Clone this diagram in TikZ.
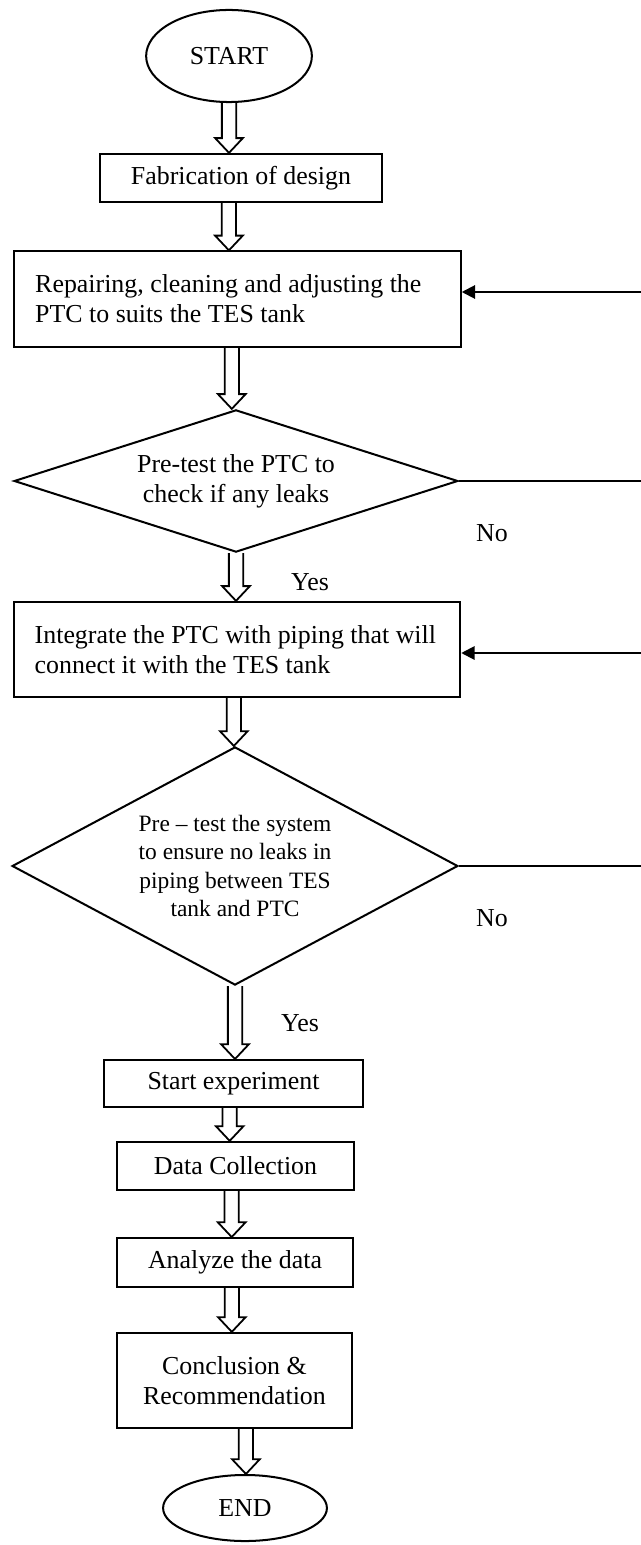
\documentclass[tikz,border=0pt]{standalone}
\usepackage{fontspec}
\setmainfont{Liberation Serif}
\usetikzlibrary{shapes.geometric,arrows.meta,calc}
\newcommand{\px}{0.01574cm}
% hollow block arrow from the bottom of #2 down to the top of #3
\newcommand{\fatarrow}[3][0pt]{%
  \draw[fat] let \p1=([xshift=#1]#2.south), \p2=([xshift=#1]#2.south |- #3.north) in
    (\x1-3.2pt,\y1) -- (\x1-3.2pt,\y2+6.6pt) -- (\x1-6.2pt,\y2+6.6pt) -- (\x2,\y2)
    -- (\x1+6.2pt,\y2+6.6pt) -- (\x1+3.2pt,\y2+6.6pt) -- (\x1+3.2pt,\y1);}
\begin{document}
\begin{tikzpicture}[x=\px,y=-\px,line width=0.9pt]
\tikzset{every node/.style={font=\fontsize{11.6}{13.5}\selectfont},
         oval/.style={draw,ellipse,inner sep=0pt},
         box/.style={draw,rectangle,inner sep=0pt,align=center},
         wide/.style={draw,rectangle,inner xsep=9.4pt,inner ysep=0pt,text width=6.37cm,
                      align=flush left,minimum height=1.5cm},
         test/.style={draw,diamond,inner sep=0pt,align=center},
         fat/.style={line width=0.8pt,line join=miter},
         back/.style={-{Triangle[length=6pt,width=6pt]}}}
%\tikzset{every node/.style={font=\small}}
\useasboundingbox (0,0) rectangle (641,1545);
\node[oval,minimum width=2.61cm,minimum height=1.45cm] (start) at (229,56) {START};
\node[box,minimum width=4.44cm,minimum height=0.76cm] (fab) at (241,178) {Fabrication of design};
\node[wide] (repair) at (237.5,299)
    {Repairing, cleaning and adjusting the\\PTC to suits the TES tank\\[6pt]};
\node[test,shape aspect=3.1,minimum width=6.99cm,minimum height=2.24cm] (check1) at (236,481)
    {Pre-test the PTC to\\check if any leaks};
\node[wide] (integ) at (237,649.5)
    {Integrate the PTC with piping that will\\connect it with the TES tank\\[6pt]};
\node[test,shape aspect=1.87,minimum width=7.02cm,minimum height=3.75cm,
      font=\fontsize{10.5}{12.6}\selectfont] (check2) at (235,866)
    {Pre -- test the system\\to ensure no leaks in\\piping between TES\\tank and PTC};
\node[box,minimum width=4.08cm,minimum height=0.74cm] (exper) at (233.5,1083.5) {Start experiment};
\node[box,minimum width=3.73cm,minimum height=0.76cm] (collect) at (235.5,1166) {Data Collection};
\node[box,minimum width=3.71cm,minimum height=0.77cm] (analyze) at (235,1262.5) {Analyze the data};
\node[box,minimum width=3.70cm,minimum height=1.5cm] (concl) at (234.5,1380.5)
    {Conclusion \&\\Recommendation};
\node[oval,minimum width=2.58cm,minimum height=1.04cm] (end) at (245,1508) {END};
% decision labels
\node (no1) at (492,533) {No};
\node (yes1) at (310,582) {Yes};
\node (no2) at (492,918) {No};
\node (yes2) at (300,1023) {Yes};
% loops back (the return lines run off the page)
\coordinate (out1) at (641,481);
\coordinate (in1) at (641,292);
\coordinate (out2) at (641,866);
\coordinate (in2) at (641,653);
\draw (check1.east) -- (out1);
\draw[back] (in1) -- (repair.east |- in1);
\draw (check2.east) -- (out2);
\draw[back] (in2) -- (integ.east |- in2);
% main flow
\fatarrow{start}{fab}
\fatarrow[-0.19cm]{fab}{repair}
\fatarrow[-0.09cm]{repair}{check1}
\fatarrow{check1}{integ}
\fatarrow[-0.05cm]{integ}{check2}
\fatarrow{check2}{exper}
\fatarrow[-0.06cm]{exper}{collect}
\fatarrow[-0.06cm]{collect}{analyze}
\fatarrow[-0.05cm]{analyze}{concl}
\fatarrow[0.18cm]{concl}{end}
\end{tikzpicture}
\end{document}
